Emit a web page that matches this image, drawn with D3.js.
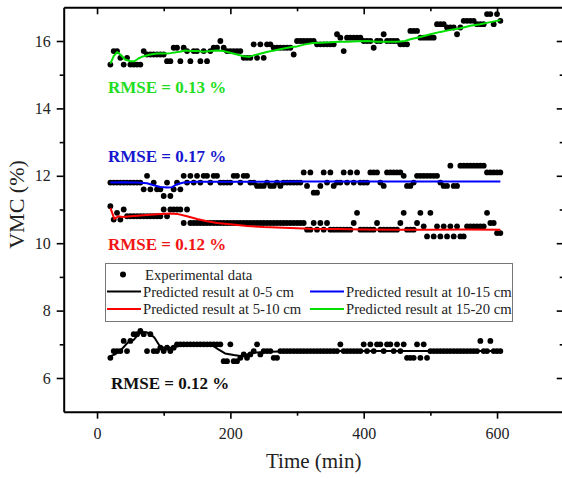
<!DOCTYPE html>
<html>
<head>
<meta charset="utf-8">
<script src="https://cdn.jsdelivr.net/npm/d3@7"></script>
<style>
  body { margin: 0; background: #fff; }
  svg { display: block; }
  svg text { font-family: "Liberation Serif", "Times New Roman", Times, serif !important; }
</style>
</head>
<body>
<svg id="chart" width="562" height="479" font-family="Liberation Serif, Times New Roman, serif"></svg>
<script>
// Sampling times of the soil moisture measurements (min)
const times = [
  20, 25, 30, 35, 40, 45, 50, 55, 60, 65,
  70, 75, 80, 85, 90, 95, 100, 105, 110, 115,
  120, 125, 130, 135, 140, 145, 150, 155, 160, 165,
  170, 175, 180, 185, 190, 195, 200, 205, 210, 215,
  220, 225, 230, 235, 240, 245, 250, 255, 260, 265,
  270, 275, 280, 285, 290, 295, 300, 305, 310, 315,
  320, 325, 330, 335, 340, 345, 350, 355, 360, 365,
  370, 375, 380, 385, 390, 395, 400, 405, 410, 415,
  420, 425, 430, 435, 440, 445, 450, 455, 460, 465,
  470, 475, 480, 485, 490, 495, 500, 505, 510, 515,
  520, 525, 530, 535, 540, 545, 550, 555, 560, 565,
  570, 575, 580, 585, 590, 595, 600, 605
];

// Measured VMC (%) at each depth
const exp0to5 = [
  6.6, 6.8, 6.8, 6.8, 7.1, 6.8, 7.1, 7.3, 7.3, 7.4,
  7.3, 6.8, 7.3, 6.8, 6.8, 6.9, 6.8, 6.9, 6.8, 6.9,
  7.0, 7.0, 7.0, 7.0, 7.0, 7.0, 7.0, 7.0, 7.0, 7.0,
  7.0, 7.0, 7.0, 7.0, 6.5, 6.5, 7.0, 6.5, 6.5, 6.6,
  6.7, 6.6, 6.7, 6.8, 7.0, 6.7, 6.8, 6.8, 6.8, 6.6,
  6.6, 6.8, 6.8, 6.8, 6.8, 6.8, 6.8, 6.8, 6.8, 6.8,
  6.8, 6.8, 6.8, 6.8, 6.8, 6.8, 6.8, 6.8, 6.8, 7.0,
  6.8, 6.8, 6.8, 6.8, 6.8, 6.8, 7.0, 6.8, 7.0, 6.8,
  7.0, 7.0, 6.8, 7.0, 7.0, 6.8, 7.0, 6.8, 7.0, 6.6,
  6.6, 6.6, 7.0, 6.6, 7.0, 6.6, 6.8, 6.8, 6.8, 6.8,
  6.8, 6.8, 6.8, 6.8, 6.8, 6.8, 6.8, 6.8, 6.8, 6.8,
  6.8, 7.1, 6.8, 6.8, 7.1, 6.8, 6.8, 6.8
];
const exp5to10 = [
  11.1, 10.7, 10.9, 10.7, 11.0, 10.8, 10.8, 10.8, 10.8, 10.8,
  10.8, 10.8, 10.8, 10.8, 10.8, 10.8, 11.0, 10.8, 11.0, 11.0,
  11.0, 11.0, 10.6, 11.0, 10.6, 10.6, 10.6, 10.6, 10.6, 10.6,
  10.6, 10.6, 10.6, 10.6, 10.6, 10.6, 10.6, 10.6, 10.6, 10.6,
  10.6, 10.6, 10.6, 10.6, 10.6, 10.6, 10.6, 10.6, 10.6, 10.6,
  10.6, 10.6, 10.6, 10.6, 10.6, 10.6, 10.6, 10.6, 10.6, 10.4,
  10.4, 10.6, 10.4, 10.6, 10.4, 10.6, 10.4, 10.4, 10.4, 10.4,
  10.4, 10.4, 10.4, 10.6, 10.9, 10.4, 10.4, 10.4, 10.4, 10.4,
  10.6, 10.4, 10.4, 10.4, 10.4, 10.4, 10.4, 10.6, 10.9, 10.4,
  10.4, 10.4, 10.6, 10.9, 10.5, 10.2, 10.9, 10.2, 10.5, 10.2,
  10.5, 10.2, 10.5, 10.2, 10.5, 10.2, 10.2, 10.5, 10.5, 10.5,
  10.5, 10.5, 10.5, 10.9, 10.6, 10.6, 10.3, 10.3
];
const exp10to15 = [
  11.8, 11.8, 11.8, 11.8, 11.8, 11.8, 11.8, 11.8, 11.8, 11.8,
  11.6, 12.0, 11.6, 11.8, 11.6, 11.6, 11.4, 11.8, 11.4, 11.6,
  11.8, 11.6, 12.0, 11.8, 12.0, 11.8, 12.0, 11.8, 12.0, 12.0,
  11.8, 12.0, 12.0, 11.8, 11.8, 11.8, 11.8, 12.0, 12.0, 11.8,
  12.0, 12.0, 11.8, 11.8, 11.7, 11.7, 11.7, 11.8, 11.7, 11.7,
  11.8, 11.7, 11.8, 11.8, 11.8, 11.8, 11.8, 11.8, 12.1, 11.7,
  12.1, 11.5, 11.5, 11.7, 12.1, 11.8, 12.1, 11.7, 11.8, 11.8,
  12.1, 11.8, 12.1, 11.8, 12.1, 11.8, 11.8, 11.8, 12.1, 12.1,
  12.1, 11.8, 11.7, 12.1, 12.1, 12.1, 12.1, 12.1, 12.0, 11.7,
  11.7, 11.8, 12.0, 12.0, 12.0, 12.0, 12.0, 12.0, 12.0, 11.8,
  11.7, 11.7, 12.3, 11.7, 11.7, 12.3, 12.3, 12.3, 12.3, 12.3,
  12.3, 12.3, 12.3, 12.1, 12.1, 12.1, 12.1, 12.1
];
const exp15to20 = [
  15.3, 15.7, 15.7, 15.5, 15.3, 15.5, 15.3, 15.3, 15.3, 15.3,
  15.7, 15.6, 15.6, 15.6, 15.6, 15.6, 15.6, 15.4, 15.4, 15.8,
  15.8, 15.4, 15.8, 15.7, 15.4, 15.7, 15.7, 15.4, 15.7, 15.4,
  15.7, 15.8, 15.8, 16.0, 15.8, 15.7, 15.7, 15.7, 15.7, 15.7,
  15.5, 15.5, 15.5, 15.9, 15.5, 15.9, 15.5, 15.9, 15.9, 15.8,
  15.8, 15.8, 15.8, 15.8, 15.8, 15.6, 16.0, 16.0, 16.0, 16.0,
  16.0, 16.0, 15.9, 15.9, 15.9, 15.9, 15.9, 15.9, 16.2, 16.1,
  15.7, 16.1, 16.1, 16.1, 16.1, 16.1, 16.0, 16.0, 16.0, 15.8,
  16.0, 16.0, 16.2, 16.0, 16.0, 16.0, 16.0, 15.9, 15.9, 15.9,
  16.3, 16.3, 16.3, 16.1, 16.1, 16.1, 16.1, 16.1, 16.5, 16.5,
  16.5, 16.4, 16.4, 16.4, 16.2, 16.4, 16.6, 16.6, 16.6, 16.6,
  16.5, 16.5, 16.5, 16.8, 16.8, 16.5, 16.8, 16.6
];

// Model predictions (time in min, VMC in %)
const fit0to5T = [20, 27, 36, 46, 55, 60, 66, 74, 80, 86, 94, 100, 110, 124, 140, 160, 172, 182, 192, 205, 215, 225, 240, 260, 300, 400, 500, 605];
const fit0to5V = [6.65, 6.7, 6.83, 7.05, 7.13, 7.25, 7.36, 7.36, 7.3, 7.2, 6.95, 6.9, 6.9, 6.95, 7.0, 7.02, 6.98, 6.85, 6.73, 6.68, 6.65, 6.7, 6.76, 6.78, 6.8, 6.8, 6.8, 6.8];
const fit5to10T = [20, 26, 32, 38, 50, 70, 90, 110, 120, 135, 150, 165, 180, 200, 225, 250, 280, 320, 360, 400, 450, 500, 550, 605];
const fit5to10V = [11.05, 10.72, 10.8, 10.78, 10.8, 10.83, 10.86, 10.88, 10.87, 10.8, 10.72, 10.65, 10.6, 10.56, 10.51, 10.48, 10.46, 10.43, 10.42, 10.41, 10.4, 10.4, 10.41, 10.4];
const fit10to15T = [20, 40, 60, 75, 85, 95, 105, 112, 120, 130, 150, 200, 300, 400, 500, 605];
const fit10to15V = [11.8, 11.81, 11.8, 11.78, 11.72, 11.67, 11.65, 11.66, 11.75, 11.8, 11.82, 11.82, 11.83, 11.83, 11.83, 11.83];
const fit15to20T = [20, 25, 30, 35, 42, 50, 56, 62, 70, 80, 90, 100, 110, 124, 132, 140, 150, 160, 170, 180, 190, 200, 210, 220, 228, 236, 246, 256, 266, 280, 292, 300, 312, 324, 336, 350, 364, 376, 390, 405, 420, 435, 450, 462, 470, 485, 500, 515, 530, 545, 560, 575, 590, 605];
const fit15to20V = [15.33, 15.55, 15.67, 15.6, 15.45, 15.4, 15.4, 15.48, 15.55, 15.6, 15.63, 15.63, 15.64, 15.68, 15.72, 15.7, 15.7, 15.68, 15.7, 15.72, 15.7, 15.65, 15.6, 15.55, 15.53, 15.58, 15.63, 15.68, 15.72, 15.78, 15.82, 15.84, 15.9, 15.94, 15.95, 15.96, 15.98, 15.98, 15.99, 16.0, 15.98, 15.98, 15.98, 16.0, 16.05, 16.12, 16.2, 16.27, 16.33, 16.38, 16.45, 16.5, 16.56, 16.62];

// Axis ticks
const xMajorTicks = [0, 200, 400, 600];
const xMinorTicks = [100, 300, 500];
const yMajorTicks = [6, 8, 10, 12, 14, 16];
const yMinorTicks = [7, 9, 11, 13, 15];

// Series labels, colours and RMSE annotations
const seriesNames = ["Predicted result at 0-5 cm", "Predicted result at 5-10 cm", "Predicted result at 10-15 cm", "Predicted result at 15-20 cm"];
const seriesColors = ["#000000", "#ff0000", "#0000ff", "#00e000"];
const rmseLabels = ["RMSE = 0.12 %", "RMSE = 0.12 %", "RMSE = 0.17 %", "RMSE = 0.13 %"];
const rmseColors = ["#111111", "#f01515", "#1717d0", "#22dd22"];

const SERIF = '"Liberation Serif", "Times New Roman", Times, serif';
const svg = d3.select("#chart");
const x = d3.scaleLinear().domain([-50, 700]).range([63.7, 563.7]);
const y = d3.scaleLinear().domain([5, 17]).range([411.7, 7.3]);
const [x0, x1] = x.range();
const [yB, yT] = y.range();

// Experimental points
const expSets = [exp0to5, exp5to10, exp10to15, exp15to20];
const dots = svg.append("g");
expSets.forEach(vals => {
  dots.selectAll(null)
    .data(vals.map((v, i) => [times[i], v]))
    .join("circle")
    .attr("cx", d => x(d[0]))
    .attr("cy", d => y(d[1]))
    .attr("r", 2.9)
    .attr("fill", "#000");
});

// Model curves
const fits = [[fit0to5T, fit0to5V], [fit5to10T, fit5to10V], [fit10to15T, fit10to15V], [fit15to20T, fit15to20V]];
const line = d3.line().x(d => x(d[0])).y(d => y(d[1]));
fits.forEach(([T, V], k) => {
  svg.append("path")
    .attr("d", line(T.map((t, i) => [t, V[i]])))
    .attr("fill", "none")
    .attr("stroke", seriesColors[k])
    .attr("stroke-width", 2)
    .attr("stroke-linejoin", "round");
});

// Axes
function styleAxis(g) {
  g.attr("font-family", SERIF);
  g.selectAll("path.domain").attr("stroke", "#000").attr("stroke-width", 2);
  g.selectAll(".tick line").attr("stroke", "#000").attr("stroke-width", 1.6);
  g.selectAll(".tick text").attr("fill", "#222").attr("font-family", SERIF).style("font-size", "16px");
}
// bottom
svg.append("g").attr("transform", `translate(0,${yB})`)
  .call(d3.axisBottom(x).tickValues(xMajorTicks).tickSize(7).tickSizeOuter(0).tickPadding(9).tickFormat(d3.format("d")))
  .call(styleAxis);
svg.append("g").attr("transform", `translate(0,${yB})`)
  .call(d3.axisBottom(x).tickValues(xMinorTicks).tickSize(4).tickFormat(""))
  .call(g => g.select("path.domain").remove()).call(styleAxis);
// top
svg.append("g").attr("transform", `translate(0,${yT})`)
  .call(d3.axisTop(x).tickValues(xMajorTicks).tickSize(-7).tickSizeOuter(0).tickFormat(""))
  .call(styleAxis);
svg.append("g").attr("transform", `translate(0,${yT})`)
  .call(d3.axisTop(x).tickValues(xMinorTicks).tickSize(-4).tickFormat(""))
  .call(g => g.select("path.domain").remove()).call(styleAxis);
// left
svg.append("g").attr("transform", `translate(${x0},0)`)
  .call(d3.axisLeft(y).tickValues(yMajorTicks).tickSize(7).tickSizeOuter(0).tickPadding(6).tickFormat(d3.format("d")))
  .call(styleAxis);
svg.append("g").attr("transform", `translate(${x0},0)`)
  .call(d3.axisLeft(y).tickValues(yMinorTicks).tickSize(4).tickFormat(""))
  .call(g => g.select("path.domain").remove()).call(styleAxis);
// right
svg.append("g").attr("transform", `translate(${x1},0)`)
  .call(d3.axisRight(y).tickValues(yMajorTicks).tickSize(-7).tickSizeOuter(0).tickFormat(""))
  .call(styleAxis);
svg.append("g").attr("transform", `translate(${x1},0)`)
  .call(d3.axisRight(y).tickValues(yMinorTicks).tickSize(-4).tickFormat(""))
  .call(g => g.select("path.domain").remove()).call(styleAxis);

// Axis titles
svg.append("text")
  .attr("x", (x0 + x1) / 2).attr("y", 468)
  .attr("text-anchor", "middle").attr("fill", "#222").attr("font-family", SERIF)
  .style("font-size", "21px")
  .text("Time (min)");
svg.append("text")
  .attr("transform", `translate(24,${(yB + yT) / 2 - 5}) rotate(-90)`)
  .attr("text-anchor", "middle").attr("fill", "#222").attr("font-family", SERIF)
  .style("font-size", "22px")
  .text("VMC (%)");

// RMSE annotations
const rmsePos = [[111, 389], [108, 250], [108, 162], [108, 93]];
rmseLabels.forEach((s, k) => {
  svg.append("text")
    .attr("x", rmsePos[k][0]).attr("y", rmsePos[k][1])
    .attr("fill", rmseColors[k]).attr("font-family", SERIF)
    .style("font-size", "17px").style("font-weight", "bold")
    .text(s);
});

// Legend
const lg = svg.append("g").attr("font-family", SERIF);
lg.append("rect").attr("x", 105.5).attr("y", 263.5).attr("width", 407).attr("height", 58)
  .attr("fill", "#fff").attr("stroke", "#777").attr("stroke-width", 1);
lg.append("circle").attr("cx", 123).attr("cy", 274.5).attr("r", 3).attr("fill", "#000");
lg.append("text").attr("x", 145).attr("y", 279.5).attr("fill", "#222").style("font-size", "14.7px").text("Experimental data");
const legPos = [[107, 291.5], [107, 309], [310, 291.5], [310, 309]];
seriesNames.forEach((s, k) => {
  const [lx, ly] = legPos[k];
  lg.append("line").attr("x1", lx).attr("x2", lx + 34).attr("y1", ly).attr("y2", ly)
    .attr("stroke", seriesColors[k]).attr("stroke-width", 2);
  lg.append("text").attr("x", lx + 36).attr("y", ly + 5).attr("fill", "#222")
    .style("font-size", "14.7px").text(s);
});
</script>
</body>
</html>
